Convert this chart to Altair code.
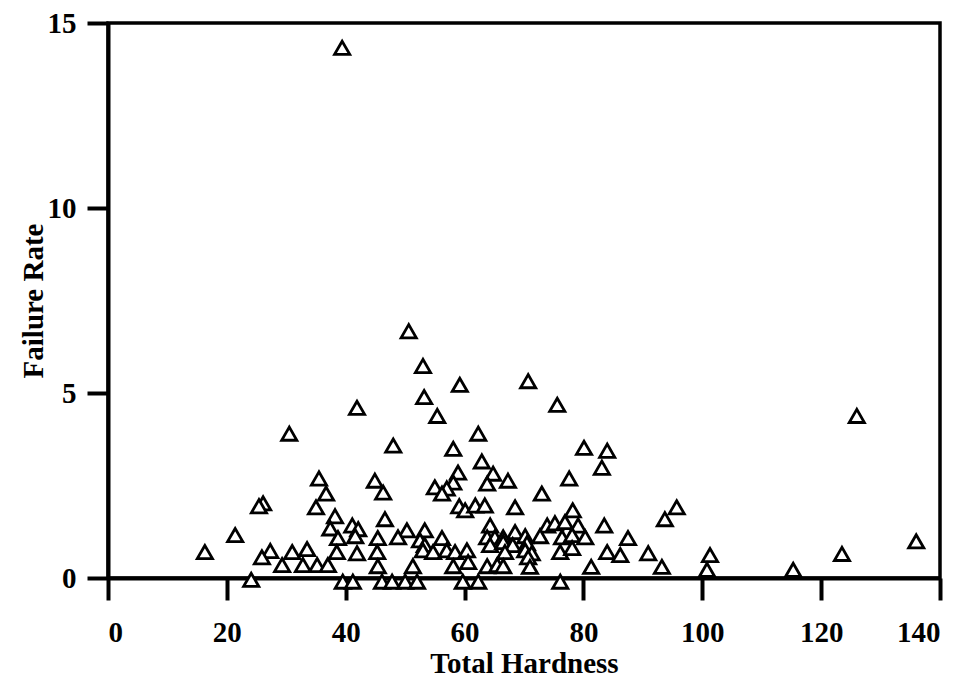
import altair as alt
import pandas as pd

hardness = [
    39.4, 50.6, 53.0, 59.2, 70.7, 53.2, 41.9, 55.4, 75.6, 30.5,
    62.3, 126.0, 48.0, 58.1, 80.1, 84.0, 62.9, 83.1, 64.8, 35.5,
    44.9, 67.3, 58.9, 77.6, 63.8, 58.1, 55.0, 57.0, 56.2, 36.7,
    46.3, 73.0, 26.1, 25.4, 35.0, 59.1, 60.1, 61.8, 63.4, 68.5,
    78.2, 95.7, 93.7, 38.2, 46.6, 37.4, 41.1, 42.1, 64.3, 73.9,
    75.2, 76.9, 79.1, 83.5, 50.3, 53.3, 68.5, 21.4, 38.7, 41.6,
    45.4, 48.8, 56.2, 52.5, 63.8, 65.1, 66.5, 70.2, 72.7, 76.4,
    78.1, 80.3, 87.5, 64.3, 66.5, 68.1, 70.5, 53.3, 16.3, 27.3,
    31.0, 33.5, 38.5, 41.9, 45.3, 53.0, 54.7, 57.0, 58.4, 60.4,
    66.8, 70.2, 71.3, 76.1, 78.1, 84.0, 86.2, 90.9, 101.3, 123.5,
    136.0, 25.9, 70.7, 60.6, 29.3, 32.8, 35.2, 37.0, 45.4, 51.3,
    58.1, 63.8, 65.5, 66.5, 71.0, 81.3, 93.2, 100.8, 115.3, 24.1,
    39.5, 41.2, 46.1, 47.8, 50.0, 52.0, 59.7, 62.3, 76.1,
]
failure = [
    14.33, 6.67, 5.73, 5.22, 5.32, 4.89, 4.60, 4.38, 4.68, 3.90,
    3.90, 4.38, 3.58, 3.49, 3.52, 3.44, 3.15, 2.98, 2.82, 2.69,
    2.63, 2.63, 2.85, 2.69, 2.55, 2.58, 2.45, 2.42, 2.28, 2.28,
    2.31, 2.28, 2.02, 1.94, 1.91, 1.94, 1.83, 1.96, 1.96, 1.91,
    1.83, 1.91, 1.59, 1.67, 1.59, 1.34, 1.42, 1.32, 1.42, 1.42,
    1.48, 1.51, 1.42, 1.42, 1.29, 1.29, 1.24, 1.16, 1.08, 1.13,
    1.08, 1.10, 1.08, 1.02, 1.10, 1.10, 1.10, 1.13, 1.13, 1.10,
    1.16, 1.10, 1.08, 0.89, 0.97, 0.89, 0.94, 0.89, 0.70, 0.73,
    0.70, 0.78, 0.70, 0.67, 0.70, 0.75, 0.70, 0.75, 0.70, 0.75,
    0.70, 0.75, 0.67, 0.70, 0.81, 0.70, 0.62, 0.67, 0.62, 0.65,
    0.99, 0.56, 0.56, 0.43, 0.35, 0.35, 0.35, 0.35, 0.32, 0.32,
    0.32, 0.32, 0.35, 0.32, 0.30, 0.30, 0.30, 0.22, 0.22, -0.05,
    -0.10, -0.10, -0.10, -0.10, -0.10, -0.10, -0.10, -0.10, -0.10,
]

x_ticks = [0, 20, 40, 60, 80, 100, 120, 140]
y_ticks = [0, 5, 10, 15]

df = pd.DataFrame({"hardness": hardness, "failure": failure})

FONT = "Liberation Serif"

chart = (
    alt.Chart(df)
    .mark_point(shape="triangle-up", size=230, filled=False, fill="white",
                fillOpacity=1, stroke="black", strokeWidth=2.8, opacity=1)
    .encode(
        x=alt.X("hardness:Q",
                scale=alt.Scale(domain=[0, 140], nice=False, zero=False),
                axis=alt.Axis(values=x_ticks, title="Total Hardness",
                              tickSize=22, labelPadding=18, titlePadding=2,
                              grid=False)),
        y=alt.Y("failure:Q",
                scale=alt.Scale(domain=[0, 15], nice=False, zero=False),
                axis=alt.Axis(values=y_ticks, title="Failure Rate",
                              tickSize=21, labelPadding=11, titlePadding=-1,
                              grid=False)),
    )
    .properties(
        width=832,
        height=555,
        background="white",
        autosize=alt.AutoSizeParams(type="none"),
        padding={"left": 100, "top": 15, "right": 18, "bottom": 105},
    )
    .configure_view(stroke="black", strokeWidth=3.5)
    .configure_axis(
        domainColor="black", domainWidth=4, tickColor="black", tickWidth=4,
        labelFont=FONT, labelFontSize=29, labelFontWeight="bold",
        labelColor="black", titleFont=FONT, titleFontSize=29,
        titleFontWeight="bold", titleColor="black",
    )
)

chart.save("out.html", embed_options={"renderer": "svg", "actions": False})
